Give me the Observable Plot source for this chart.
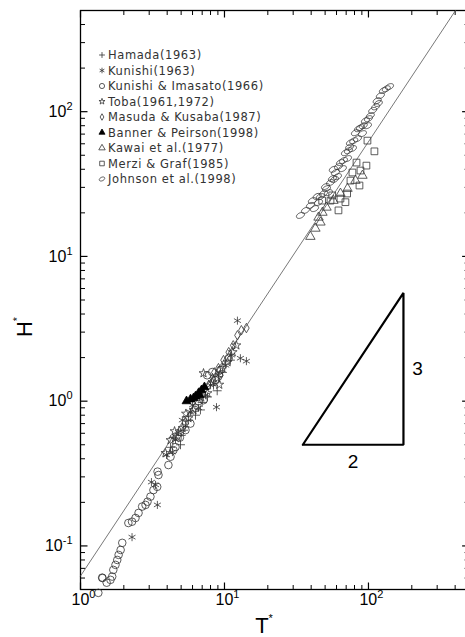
<!DOCTYPE html>
<html><head><meta charset="utf-8">
<script src="https://cdn.jsdelivr.net/npm/d3@7"></script>
<script src="https://cdn.jsdelivr.net/npm/@observablehq/plot@0.6"></script>
<style>
html,body{margin:0;padding:0;background:#fff;}
#chart{position:relative;width:465px;height:637px;overflow:hidden;}
svg{display:block;}
</style></head><body><div id="chart"></div>
<script>
// ---- data: [T*, H*] ----
const hamada = [[4.95,0.50],[5.19,0.63],[6.29,0.80],[7.62,1.07],[8.39,1.29],[9.68,1.58],[4.22,0.48],[5.62,0.74],[11.0,1.92],[6.81,0.87],[4.4,0.56],[7.0,0.98],[5.0,0.58],[8.9,1.18]];
const kunishi = [[2.28,0.115],[3.42,0.192],[3.32,0.264],[3.11,0.276],[8.80,0.909],[11.2,2.08],[12.9,1.98],[14.2,1.89],[12.3,3.6],[4.57,0.54],[4.79,0.61],[5.36,0.68],[5.81,0.84],[6.6,0.90],[7.38,1.10],[8.0,1.29],[9.08,1.51],[10.2,1.77],[4.35,0.445],[3.96,0.425],[6.0,0.94],[5.1,0.74],[7.0,1.2]];
const kunishiImasato = [[1.33,0.0474],[1.415,0.0604],[1.42,0.060],[1.52,0.0557],[1.615,0.0583],[1.66,0.0614],[1.69,0.0683],[1.75,0.074],[1.80,0.080],[1.84,0.0867],[1.90,0.0938],[1.95,0.105],[2.15,0.144],[2.28,0.147],[2.41,0.156],[2.53,0.169],[2.68,0.187],[2.83,0.192],[2.92,0.202],[3.06,0.219],[3.21,0.243],[3.41,0.256],[3.48,0.309],[3.43,0.326],[4.08,0.362],[4.22,0.413],[4.42,0.459],[7.58,1.51],[8.22,1.59],[5.36,0.631],[6.29,0.895],[7.15,1.016],[9.38,1.64],[10.7,1.98],[4.57,0.482],[4.9,0.56],[5.8,0.7],[6.6,1.0],[8.6,1.4]];
const toba = [[3.89,0.438],[4.22,0.538],[4.72,0.565],[5.11,0.651],[5.62,0.763],[6.09,0.867],[7.15,1.56],[7.62,1.135],[8.26,1.35],[8.94,1.44],[9.68,1.69],[10.5,1.86],[11.4,2.18],[12.1,2.43],[4.5,0.62],[5.4,0.82],[6.9,1.06],[9.2,1.3]];
const masuda = [[14.2,3.2],[12.3,2.85],[11.5,2.43],[10.7,2.18],[9.84,1.92],[9.08,1.69],[8.26,1.44],[7.76,1.29],[13.1,3.09],[9.38,1.51],[8.5,1.58]];
const banner = [[5.45,1.0],[5.81,1.03],[6.29,1.08],[6.6,1.135],[6.92,1.19],[7.26,1.25],[6.7,1.10],[6.1,1.05]];
const kawai = [[42.8,15.6],[45.0,18.6],[47.9,20.1],[46.4,17.2],[51.1,21.8],[57.1,24.3],[63.9,27.2],[71.5,29.4],[81.2,33.4],[90.8,36.2],[39.5,13.7]];
const merzi = [[110,53.2],[98.4,63.1],[96.8,42.4],[88.0,39.2],[86.6,30.9],[75.0,33.4],[71.1,27.2],[69.2,23.7],[63.9,25.1],[56.0,26.4],[54.5,24.3],[47.7,24.3],[82.6,44.5],[61.9,20.8],[77.4,38.0]];
const johnson = [[33.7,19.2],[36.5,20.8],[39.5,22.5],[42.2,21.4],[45.0,23.6],[46.4,25.9],[48.7,27.2],[51.1,29.4],[52.7,27.6],[54.5,32.4],[56.2,34.5],[59.0,38.0],[60.9,35.6],[63.9,44.5],[65.9,40.4],[69.2,52.1],[71.5,47.4],[75.0,61.1],[77.4,55.6],[81.2,71.6],[83.9,65.1],[88.0,77.6],[90.8,70.5],[95.3,86.7],[98.4,80.0],[103,93.8],[107,102],[112,108],[115,119],[121,129],[127,140],[133,144],[140,149],[117,114],[100,89.5],[85.3,76.3],[72.6,53.8],[61.9,41.8],[50.3,30.4],[40.8,24.3],[44,26],[58,34],[67,46],[79,63],[92,80],[57,40],[74,57]];

const seriesNames = ["Hamada(1963)","Kunishi(1963)","Kunishi & Imasato(1966)","Toba(1961,1972)","Masuda & Kusaba(1987)","Banner & Peirson(1998)","Kawai et al.(1977)","Merzi & Graf(1985)","Johnson et al.(1998)"];

// fit line H* = 0.062 T*^1.5, triangle (slope 3/2)
const fitCoef = 0.062, fitExp = 1.5;
const fitT = [1, 402];
const triT = [35, 175, 175, 35];
const triH = [0.5, 0.5, 5.6, 0.5];
const triLabels = [{t: 78, h: 0.5, s: "2", side: "bottom"}, {t: 175, h: 1.67, s: "3", side: "right"}];

// axes
const xMajor = [1, 10, 100];
const xMajorExp = ["0", "1", "2"];
const xMinor = [2,3,4,5,6,7,8,9,20,30,40,50,60,70,80,90,200,300,400];
const yMajor = [0.1, 1, 10, 100];
const yMajorExp = ["-1", "0", "1", "2"];
const yMinor = [0.06,0.07,0.08,0.09,0.2,0.3,0.4,0.5,0.6,0.7,0.8,0.9,2,3,4,5,6,7,8,9,20,30,40,50,60,70,80,90,200,300,400];

// ---- symbols ----
const ellipseSym = {draw(ctx, size) {
  const r = Math.sqrt(size / Math.PI), a = r * 1.2, b = r * 0.72, th = -0.45;
  for (let k = 0; k <= 24; k++) {
    const t = k / 24 * 2 * Math.PI, x = a * Math.cos(t), y = b * Math.sin(t);
    const X = x * Math.cos(th) - y * Math.sin(th), Y = x * Math.sin(th) + y * Math.cos(th);
    if (k) ctx.lineTo(X, Y); else ctx.moveTo(X, Y);
  }
  ctx.closePath();
}};
const tickSym = (dx, dy) => ({draw(ctx) { ctx.moveTo(0, 0); ctx.lineTo(dx, dy); }});
const symDefs = [
  {data: hamada, sym: d3.symbolPlus, r: 3.0, fill: "none"},
  {data: kunishi, sym: d3.symbolAsterisk, r: 3.8, fill: "none"},
  {data: kunishiImasato, sym: d3.symbolCircle, r: 3.8, fill: "none"},
  {data: toba, sym: d3.symbolStar, r: 2.8, fill: "none"},
  {data: masuda, sym: d3.symbolDiamond, r: 2.9, fill: "none"},
  {data: banner, sym: d3.symbolTriangle, r: 3.3, fill: "#000"},
  {data: kawai, sym: d3.symbolTriangle, r: 3.5, fill: "none"},
  {data: merzi, sym: d3.symbolSquare, r: 3.8, fill: "none"},
  {data: johnson, sym: ellipseSym, r: 3.6, fill: "none"}
];

const font = "'Liberation Sans', Arial, sans-serif";
const MAJ = 7, MIN = 4.5;
const tk = {stroke: "#000", fill: "none", r: 5};

const marks = [
  Plot.frame({stroke: "#000", strokeWidth: 1.3}),
  // inward ticks on four sides
  Plot.dot(xMajor, {x: d => d, frameAnchor: "bottom", symbol: tickSym(0, -MAJ), strokeWidth: 1.2, ...tk}),
  Plot.dot(xMinor, {x: d => d, frameAnchor: "bottom", symbol: tickSym(0, -MIN), strokeWidth: 1, ...tk}),
  Plot.dot(xMajor, {x: d => d, frameAnchor: "top", symbol: tickSym(0, MAJ), strokeWidth: 1.2, ...tk}),
  Plot.dot(xMinor, {x: d => d, frameAnchor: "top", symbol: tickSym(0, MIN), strokeWidth: 1, ...tk}),
  Plot.dot(yMajor, {y: d => d, frameAnchor: "left", symbol: tickSym(MAJ, 0), strokeWidth: 1.2, ...tk}),
  Plot.dot(yMinor, {y: d => d, frameAnchor: "left", symbol: tickSym(MIN, 0), strokeWidth: 1, ...tk}),
  Plot.dot(yMajor, {y: d => d, frameAnchor: "right", symbol: tickSym(-MAJ, 0), strokeWidth: 1.2, ...tk}),
  Plot.dot(yMinor, {y: d => d, frameAnchor: "right", symbol: tickSym(-MIN, 0), strokeWidth: 1, ...tk}),
  // tick labels
  Plot.text(xMajor, {x: d => d, frameAnchor: "bottom", dy: 15, dx: -9, textAnchor: "start", fontSize: 16, fill: "#000",
    text: (d, i) => "10^" + xMajorExp[i]}),
  Plot.text(yMajor, {y: d => d, frameAnchor: "left", dx: -8, textAnchor: "end", fontSize: 16, fill: "#000",
    text: (d, i) => "10^" + yMajorExp[i]}),
  // fit line
  Plot.line(fitT.map(t => [t, fitCoef * Math.pow(t, fitExp)]), {x: d => d[0], y: d => d[1], stroke: "#555", strokeWidth: 0.8}),
  // slope triangle
  Plot.line(triT.map((t, i) => [t, triH[i]]), {x: d => d[0], y: d => d[1], stroke: "#000", strokeWidth: 2.2, strokeLinejoin: "miter"}),
  Plot.text(triLabels.filter(d => d.side === "bottom"), {x: "t", y: "h", text: "s", dy: 17, fontSize: 19, fill: "#000"}),
  Plot.text(triLabels.filter(d => d.side === "right"), {x: "t", y: "h", text: "s", dx: 14, fontSize: 19, fill: "#000"}),
  // data
  ...symDefs.map(s => Plot.dot(s.data, {x: d => d[0], y: d => d[1], symbol: s.sym === ellipseSym ? ellipseSym : {draw: (c, z) => s.sym.draw(c, z)},
    r: s.r, stroke: s.fill === "none" ? "#333" : "#000", strokeWidth: 0.8, fill: s.fill}))
];

const chart = Plot.plot({
  width: 465, height: 637,
  marginLeft: 80, marginRight: -3.6, marginTop: 10, marginBottom: 48,
  x: {type: "log", domain: [1, 500], axis: null},
  y: {type: "log", domain: [0.05, 500], axis: null},
  style: {fontFamily: font, background: "white", overflow: "hidden"},
  marks
});

const svg = d3.select(chart);
// superscript exponents in tick labels
svg.selectAll("text").each(function() {
  const el = d3.select(this);
  const s = el.text();
  const m = /^10\^(-?\d)$/.exec(s);
  if (!m) return;
  el.text("10");
  el.append("tspan").attr("dy", "-7").attr("font-size", 11).text(m[1]);
});

// axis titles
svg.append("text").attr("x", 264).attr("y", 633).attr("text-anchor", "middle")
  .attr("font-family", font).attr("font-size", 22).attr("fill", "#000")
  .text("T").append("tspan").attr("dy", -11).attr("font-size", 11).text("*");
svg.append("text").attr("transform", "translate(32,327) rotate(-90)").attr("text-anchor", "middle")
  .attr("font-family", font).attr("font-size", 22).attr("fill", "#000")
  .text("H").append("tspan").attr("dy", -11).attr("font-size", 11).text("*");

// legend
const lg = svg.append("g").attr("font-family", "'DejaVu Sans', sans-serif").attr("font-size", 11.5)
  .attr("letter-spacing", 0.6).attr("fill", "#333").attr("text-anchor", "start");
seriesNames.forEach((name, i) => {
  const y = 55 + i * 15.5, s = symDefs[i];
  const rr = s.r * 0.68;
  lg.append("path").attr("transform", `translate(102,${y})`)
    .attr("d", d3.symbol().type(s.sym).size(rr * rr * Math.PI)())
    .attr("fill", s.fill).attr("stroke", s.fill === "none" ? "#333" : "#000").attr("stroke-width", 0.8);
  lg.append("text").attr("x", 108).attr("y", y).attr("dy", "0.35em").text(name);
});

document.getElementById("chart").appendChild(chart);
</script></body></html>
